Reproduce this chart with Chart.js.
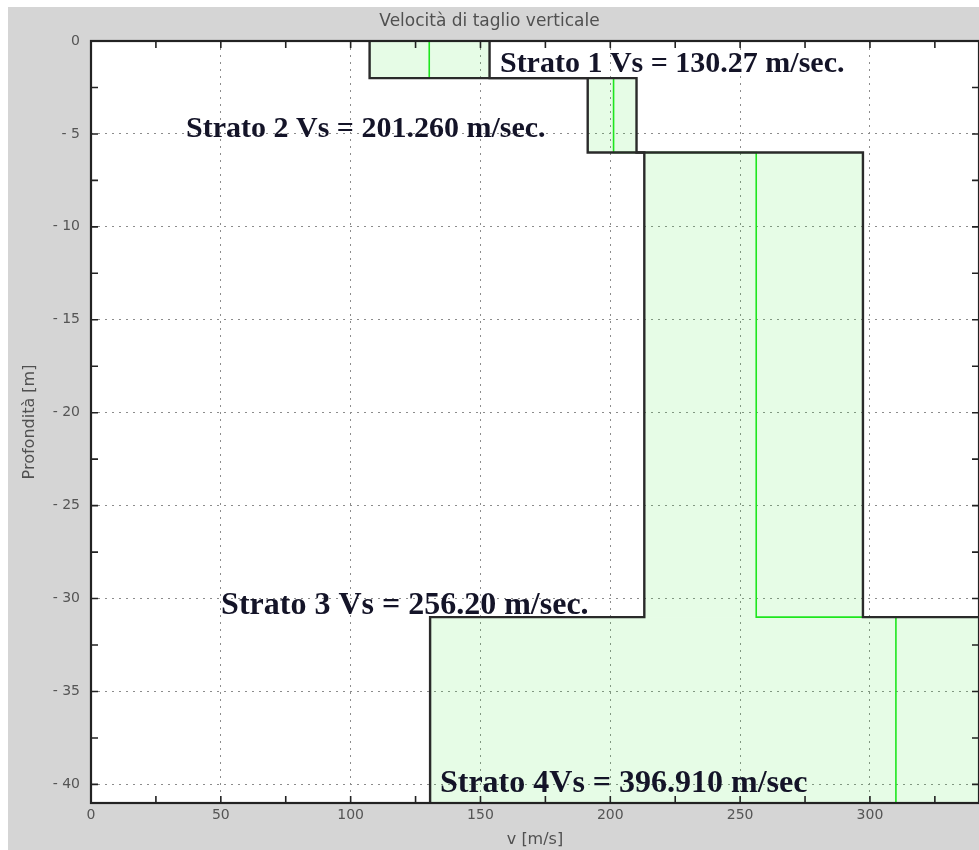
<!DOCTYPE html>
<html>
<head>
<meta charset="utf-8">
<script src="https://cdn.jsdelivr.net/npm/chart.js@4"></script>
<style>
  html, body { margin: 0; padding: 0; background: #fff; }
  #wrap { width: 979px; height: 850px; }
</style>
</head>
<body>
<div id="wrap"><canvas id="vsChart" width="979" height="850"></canvas></div>
<script>
// layers (depth in m, velocity in m/s)
const layerNames = ['Strato 1', 'Strato 2', 'Strato 3', 'Strato 4'];
const layerTop = [0, -2, -6, -31];
const layerBottom = [-2, -6, -31, -41];
const vsMin = [107.3, 191.3, 213.1, 130.6];
const vsMax = [153.5, 210.1, 297.3, 490];
const vsMean = [130.27, 201.26, 256.2, 310];

// text written on the plot, and where it sits (data units)
const layerLabels = ['Strato 1 Vs = 130.27 m/sec.', 'Strato 2 Vs = 201.260 m/sec.',
  'Strato 3 Vs = 256.20 m/sec.', 'Strato 4Vs = 396.910 m/sec'];
const labelV = [157.5, 36.6, 50.1, 134.4];
const labelDepth = [-1.67, -5.17, -30.84, -40.4];

const xTickValues = [0, 50, 100, 150, 200, 250, 300];
const yTickValues = [0, -5, -10, -15, -20, -25, -30, -35, -40];

const fillColor = 'rgba(60, 235, 60, 0.13)';
const labelFontSize = [30, 30, 32, 32];

// one filled band per layer
const fillSets = layerNames.map((name, i) => ({
  label: name,
  data: [{x: vsMin[i], y: layerTop[i]}, {x: vsMax[i], y: layerTop[i]}],
  showLine: true,
  fill: {value: layerBottom[i]},
  backgroundColor: fillColor,
  borderWidth: 0,
  pointRadius: 0,
  order: 3
}));

// step profiles
function profile(values) {
  const pts = [];
  values.forEach((v, i) => {
    pts.push({x: v, y: layerTop[i]});
    pts.push({x: v, y: layerBottom[i]});
  });
  return pts;
}

const meanSet = {
  label: 'Vs',
  data: profile(vsMean),
  showLine: true,
  borderColor: '#1ee61e',
  borderWidth: 1.6,
  pointRadius: 0,
  order: 2
};
const leftSet = {
  label: 'min',
  data: profile(vsMin),
  showLine: true,
  borderColor: '#2a2a2a',
  borderWidth: 2.4,
  pointRadius: 0,
  order: 1
};
const rightSet = Object.assign({}, leftSet, {label: 'max', data: profile(vsMax)});

const frame = {
  id: 'frame',
  beforeDraw(chart) {
    const {ctx, chartArea: a} = chart;
    ctx.save();
    ctx.fillStyle = '#ffffff';
    ctx.fillRect(0, 0, chart.width, chart.height);
    ctx.fillStyle = '#d5d5d5';
    ctx.fillRect(8, 7, chart.width - 8, chart.height - 7);
    ctx.fillStyle = '#ffffff';
    ctx.fillRect(a.left, a.top, a.right - a.left, a.bottom - a.top);
    ctx.restore();
  },
  afterDatasetsDraw(chart) {
    const {ctx, chartArea: a, scales: {x, y}} = chart;
    ctx.save();
    // labels
    ctx.fillStyle = '#141428';
    ctx.textAlign = 'left';
    ctx.textBaseline = 'alphabetic';
    layerLabels.forEach((t, i) => {
      ctx.font = 'bold ' + labelFontSize[i] + 'px "Liberation Serif"';
      ctx.fillText(t, x.getPixelForValue(labelV[i]), y.getPixelForValue(labelDepth[i]));
    });
    // inward ticks on all sides
    ctx.strokeStyle = '#222';
    ctx.lineWidth = 1.6;
    ctx.beginPath();
    for (let v = 0; v <= x.max; v += 25) {
      const px = x.getPixelForValue(v);
      ctx.moveTo(px, a.bottom); ctx.lineTo(px, a.bottom - 7);
      ctx.moveTo(px, a.top); ctx.lineTo(px, a.top + 7);
    }
    for (let d = 0; d >= y.min; d -= 2.5) {
      const py = y.getPixelForValue(d);
      ctx.moveTo(a.left, py); ctx.lineTo(a.left + 7, py);
      ctx.moveTo(a.right, py); ctx.lineTo(a.right - 7, py);
    }
    ctx.stroke();
    ctx.lineWidth = 2.2;
    ctx.strokeRect(a.left, a.top, a.right - a.left, a.bottom - a.top);
    ctx.restore();
  }
};

const tickFont = {family: 'DejaVu Sans', size: 14};
const axisTitleFont = {family: 'DejaVu Sans', size: 16};

new Chart(document.getElementById('vsChart'), {
  type: 'scatter',
  data: {datasets: [...fillSets, meanSet, leftSet, rightSet]},
  options: {
    responsive: false,
    animation: false,
    layout: {padding: 0},
    elements: {line: {tension: 0}},
    plugins: {
      legend: {display: false},
      tooltip: {enabled: false},
      title: {
        display: true,
        text: 'Velocità di taglio verticale',
        color: '#505050',
        font: {family: 'DejaVu Sans', size: 17, weight: 'normal'},
        padding: {top: 11.8, bottom: 8.8}
      }
    },
    scales: {
      x: {
        type: 'linear',
        min: 0,
        max: 342,
        afterBuildTicks: s => { s.ticks = xTickValues.map(v => ({value: v})); },
        afterFit: s => { s.height = 47; },
        grid: {color: '#8c8c8c', lineWidth: 1, drawTicks: false},
        border: {display: false, dash: [2, 5]},
        ticks: {font: tickFont, color: '#555', padding: 4},
        title: {display: true, text: 'v [m/s]', font: axisTitleFont, color: '#505050', padding: {top: 0, bottom: 1}}
      },
      y: {
        type: 'linear',
        min: -41,
        max: 0,
        afterBuildTicks: s => { s.ticks = yTickValues.map(v => ({value: v})); },
        afterFit: s => { s.width = 91; },
        grid: {color: '#8c8c8c', lineWidth: 1, drawTicks: false},
        border: {display: false, dash: [2, 5]},
        ticks: {
          font: tickFont, color: '#555', padding: 11,
          callback: v => (v < 0 ? '- ' + Math.abs(v) : String(v))
        },
        title: {display: true, text: 'Profondità [m]', font: axisTitleFont, color: '#505050', padding: {top: 20, bottom: 0}}
      }
    }
  },
  plugins: [frame]
});
</script>
</body>
</html>
